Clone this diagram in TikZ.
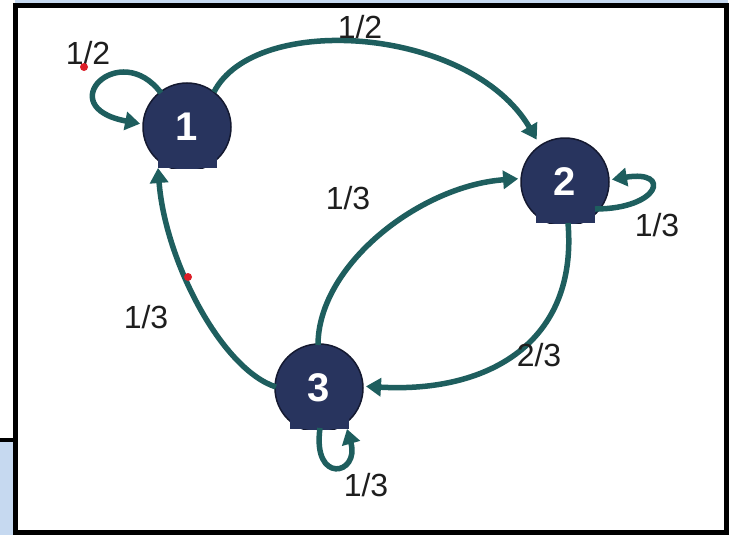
\documentclass[tikz,border=0pt]{standalone}
\usepackage{fontspec}
\setmainfont{Liberation Sans}
\usetikzlibrary{arrows.meta}
\definecolor{navy}{RGB}{40,52,94}
\definecolor{navyedge}{RGB}{20,25,48}
\definecolor{tealline}{RGB}{30,94,94}
\definecolor{paleblue}{RGB}{198,217,240}
\definecolor{txt}{RGB}{30,30,30}
\definecolor{dotred}{RGB}{220,30,40}
\newcommand\mkstate[4]{%
  \begin{scope}
    \clip (#2-60,#3-60) rectangle (#2+60,#3+41);
    \fill[navy,draw=navyedge,line width=1.5pt] (#2,#3) circle (44pt);
  \end{scope}
  \fill[navy] (#2-29,#3+26) rectangle (#2+30,#3+41);
  \node[statenode] (#1) at (#2,#3) {\raisebox{-4pt}{#4}};
}
\tikzset{
  statenode/.style={circle,minimum size=88pt,inner sep=0pt,outer sep=3pt,text=white,
    font=\bfseries\fontsize{40}{40}\selectfont},
  flow/.style={draw=tealline,line width=5.5pt,-{Triangle[length=15pt,width=18pt]}},
  lbl/.style={text=txt,inner sep=0pt,font=\fontsize{32}{32}\selectfont},
  reddot/.style={circle,fill=dotred,minimum size=8pt,inner sep=0pt}
}
\begin{document}
\begin{tikzpicture}[x=1pt,y=-1pt]
\useasboundingbox (0,0) rectangle (730,535);
\fill[white] (0,0) rectangle (730,535);
% frame
\fill[paleblue] (15,0) rectangle (728,4);
\fill[paleblue] (0,440) rectangle (14,535);
\draw[black,line width=4pt] (0,440) -- (14,440);
\draw[black,line width=5pt,fill=white] (15,5.5) rectangle (726.5,532.5);
% states
\mkstate{n1}{187}{127}{1}
\mkstate{n2}{565}{182}{2}
\mkstate{n3}{319}{388}{3}
% transitions
\draw[flow,shorten >=4pt] ([shift={(27,-35)}]n1.center) .. controls +(41,-80) and +(-69,-117) .. (n2.124);
\draw[flow] ([shift={(-1,-43)}]n3.center) .. controls +(0,-80) and +(-98,7) .. (n2.176);
\draw[flow] ([shift={(3,41)}]n2.center) .. controls +(10,118) and +(124,7) .. (n3.2);
\draw[flow] ([shift={(-43,-1)}]n3.center) .. controls +(-55,-18) and +(7,92) .. ([shift={(-29,41)}]n1.center);
% self loops
\draw[flow] ([shift={(-26,-34)}]n1.center) .. controls +(-41,-55) and +(-90,-17) .. (n1.176);
\draw[flow] ([shift={(30,27)}]n2.center) .. controls +(65,0) and +(60,-10) .. (n2.3);
\draw[flow] ([shift={(1,40)}]n3.center) .. controls +(-8,57) and +(13,46) .. ([shift={(28,41)}]n3.center);
% labels
\node[lbl] (l12) at (360,27) {1/2};
\node[lbl] (l11) at (88,53) {1/2};
\node[lbl] (l22) at (657,225) {1/3};
\node[lbl] (l33) at (366,485) {1/3};
\node[lbl] (l32) at (348,198) {1/3};
\node[lbl] (l23) at (539,355) {2/3};
\node[lbl] (l31) at (146,317) {1/3};
\node[reddot] (d1) at (84,67) {};
\node[reddot] (d2) at (188,277) {};
\end{tikzpicture}
\end{document}
